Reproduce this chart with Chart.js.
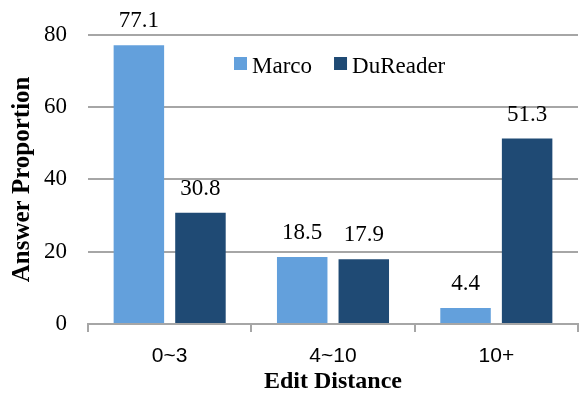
<!DOCTYPE html>
<html>
<head>
<meta charset="utf-8">
<script src="https://cdn.jsdelivr.net/npm/chart.js@4.4.0/dist/chart.umd.min.js"></script>
<style>
  html, body { margin: 0; padding: 0; background: #fff; }
  #wrap { width: 579px; height: 396px; }
</style>
</head>
<body>
<div id="wrap"><canvas id="barChart"></canvas></div>
<script>
const categories = ['0~3', '4~10', '10+'];
const marcoValues = [77.1, 18.5, 4.4];
const dureaderValues = [30.8, 17.9, 51.3];
const yTicks = [0, 20, 40, 60, 80];

const serif = '"Liberation Serif", "Times New Roman", serif';
const sans = '"Liberation Sans", Arial, sans-serif';

// values above each bar
const valueLabels = {
  id: 'valueLabels',
  afterDatasetsDraw(chart) {
    const ctx = chart.ctx;
    ctx.save();
    ctx.font = '23px ' + serif;
    ctx.fillStyle = '#000';
    ctx.textAlign = 'center';
    ctx.textBaseline = 'alphabetic';
    chart.data.datasets.forEach((ds, i) => {
      chart.getDatasetMeta(i).data.forEach((bar, j) => {
        ctx.fillText(ds.data[j].toFixed(1), bar.x, bar.y - 18);
      });
    });
    ctx.restore();
  }
};

// legend inside the plot, top middle
const innerLegend = {
  id: 'innerLegend',
  afterDraw(chart) {
    const ctx = chart.ctx;
    const area = chart.chartArea;
    let x = area.left + 146;
    const y = 64;
    ctx.save();
    ctx.font = '23px ' + serif;
    ctx.textBaseline = 'alphabetic';
    chart.data.datasets.forEach(ds => {
      ctx.fillStyle = ds.backgroundColor;
      ctx.fillRect(x, y - 7, 13, 13);
      ctx.fillStyle = '#000';
      ctx.fillText(ds.label, x + 18, y + 9);
      x += 18 + ctx.measureText(ds.label).width + 22;
    });
    ctx.restore();
  }
};

new Chart(document.getElementById('barChart'), {
  type: 'bar',
  data: {
    labels: categories,
    datasets: [
      { label: 'Marco', data: marcoValues, backgroundColor: '#63a0dc' },
      { label: 'DuReader', data: dureaderValues, backgroundColor: '#1f4a74' }
    ]
  },
  options: {
    responsive: true,
    maintainAspectRatio: false,
    animation: false,
    categoryPercentage: 0.754,
    barPercentage: 0.82,
    layout: { padding: { top: 34, right: 1, left: 0, bottom: 0 } },
    plugins: {
      legend: { display: false },
      tooltip: { enabled: false }
    },
    scales: {
      x: {
        grid: {
          display: true,
          drawOnChartArea: false,
          offset: true,
          tickLength: 8,
          color: '#a6a6a6',
          lineWidth: 2
        },
        border: { color: '#a6a6a6', width: 2 },
        ticks: { font: { family: sans, size: 21 }, color: '#000', padding: 12 },
        title: {
          display: true,
          text: 'Edit Distance',
          font: { family: serif, size: 24, weight: 'bold' },
          color: '#000',
          padding: { top: 0, bottom: 0 }
        },
        afterFit(scale) { scale.height = 72; }
      },
      y: {
        min: 0,
        max: 80,
        afterBuildTicks(scale) { scale.ticks = yTicks.map(v => ({ value: v })); },
        grid: { color: '#a6a6a6', lineWidth: 2, drawTicks: false },
        border: { display: false },
        ticks: { font: { family: serif, size: 23 }, color: '#000', padding: 21 },
        title: {
          display: true,
          text: 'Answer Proportion',
          font: { family: serif, size: 25, weight: 'bold' },
          color: '#000',
          padding: { top: 8, bottom: 0 }
        },
        afterFit(scale) { scale.width = 88; }
      }
    }
  },
  plugins: [valueLabels, innerLegend]
});
</script>
</body>
</html>
